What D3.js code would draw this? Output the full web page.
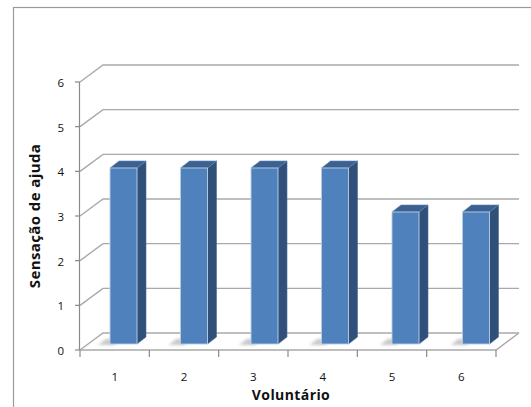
<!DOCTYPE html>
<html>
<head>
<meta charset="utf-8">
<script src="https://cdn.jsdelivr.net/npm/d3@7"></script>
<style>
  html, body { margin: 0; padding: 0; background: #fff; }
  svg { display: block; }
  text { font-family: "Open Sans", "Liberation Sans", Arial, sans-serif; }
</style>
</head>
<body>
<script>
// Data
const categories = ["1", "2", "3", "4", "5", "6"];
const values = [4, 4, 4, 4, 3, 3];
const yTicks = [0, 1, 2, 3, 4, 5, 6];
const xTitle = "Voluntário";
const yTitle = "Sensação de ajuda";

const W = 531, H = 407;
const svg = d3.select("body").append("svg").attr("width", W).attr("height", H);

// Outer chart frame
svg.append("rect")
  .attr("x", 13.5).attr("y", 7.5).attr("width", 600).attr("height", 500)
  .attr("fill", "#fff").attr("stroke", "#9a9a9a").attr("stroke-width", 1.2);

// Oblique projection offsets for the walls and the bars
const wallDx = 23, wallDy = -17;
const barDx = 9, barDy = -7;

// Front axis scales
const y = d3.scaleLinear().domain([0, 6]).range([350, 82]);
const x = d3.scaleBand().domain(categories).range([80, 496]);
// Scales for the plane in which the bars stand
const yb = d3.scaleLinear().domain([0, 6]).range([344, 80]);
const xb = d3.scaleBand().domain(categories).range([84, 507]);
const barOffset = 26, barWidth = 27;

const gridColor = "#a9a9a9";

// Gridlines: diagonal from the front axis plus line along the back wall
const grid = svg.append("g");
yTicks.forEach(t => {
  const yy = y(t);
  grid.append("path")
    .attr("d", `M${x.range()[0]},${yy} L${x.range()[0] + wallDx},${yy + wallDy} L${x.range()[1] + wallDx},${yy + wallDy}`)
    .attr("fill", "none").attr("stroke", gridColor).attr("stroke-width", 1.4);
});

// Floor: front and right edges
svg.append("path")
  .attr("d", `M${x.range()[0]},${y(0)} L${x.range()[1]},${y(0)} L${x.range()[1] + wallDx},${y(0) + wallDy}`)
  .attr("fill", "none").attr("stroke", gridColor).attr("stroke-width", 1.4);

// Y axis line and ticks
const yAxis = svg.append("g");
yAxis.append("line")
  .attr("x1", 79.5).attr("x2", 79.5).attr("y1", y(6)).attr("y2", y(0))
  .attr("stroke", "#8a8a8a").attr("stroke-width", 1.2);
yTicks.forEach(t => {
  yAxis.append("line")
    .attr("x1", 75).attr("x2", 80).attr("y1", y(t)).attr("y2", y(t))
    .attr("stroke", "#8a8a8a").attr("stroke-width", 1.2);
  yAxis.append("text")
    .attr("x", 64).attr("y", y(t) + 2)
    .attr("text-anchor", "end").attr("dominant-baseline", "middle")
    .attr("font-size", 11.5).attr("fill", "#111")
    .text(t);
});

// X axis ticks and labels
const xAxis = svg.append("g");
const bounds = categories.map(c => x(c)).concat([x.range()[1]]);
bounds.forEach(b => {
  xAxis.append("line")
    .attr("x1", b).attr("x2", b).attr("y1", y(0)).attr("y2", y(0) + 7)
    .attr("stroke", "#8a8a8a").attr("stroke-width", 1.2);
});
categories.forEach(c => {
  xAxis.append("text")
    .attr("x", x(c) + x.bandwidth() / 2).attr("y", 381)
    .attr("text-anchor", "middle")
    .attr("font-size", 11.5).attr("fill", "#111")
    .text(c);
});

// Soft shadows at the base of the bars
const defs = svg.append("defs");
defs.append("filter").attr("id", "soft")
  .attr("x", "-50%").attr("y", "-50%").attr("width", "200%").attr("height", "200%")
  .append("feGaussianBlur").attr("stdDeviation", 1.6);

const bars = svg.append("g");
categories.forEach((c, i) => {
  const x0 = xb(c) + barOffset;
  const y0 = yb(0);
  bars.append("polygon")
    .attr("points", [[x0 - 12, y0 + 1], [x0 + 4, y0 + 1], [x0 + 10, y0 - 5], [x0 - 4, y0 - 5]].join(" "))
    .attr("fill", "#c8c8c8").attr("filter", "url(#soft)");
});
categories.forEach((c, i) => {
  const x0 = xb(c) + barOffset, x1 = x0 + barWidth;
  const yt = yb(values[i]), y0 = yb(0);
  // side face
  bars.append("polygon")
    .attr("points", [[x1, yt], [x1 + barDx, yt + barDy], [x1 + barDx, y0 + barDy], [x1, y0]].join(" "))
    .attr("fill", "#30507a").attr("stroke", "#4a6d99").attr("stroke-width", 0.6);
  // top face
  bars.append("polygon")
    .attr("points", [[x0, yt], [x1, yt], [x1 + barDx, yt + barDy], [x0 + barDx, yt + barDy]].join(" "))
    .attr("fill", "#3a6192").attr("stroke", "#5f84b3").attr("stroke-width", 0.6);
  // front face
  bars.append("rect")
    .attr("x", x0).attr("y", yt).attr("width", barWidth).attr("height", y0 - yt)
    .attr("fill", "#4f81bd").attr("stroke", "#b9cce4").attr("stroke-width", 0.9);
});

// Axis titles
svg.append("text")
  .attr("x", x(categories[3]) + 3).attr("y", 400)
  .attr("text-anchor", "middle").attr("font-size", 14).attr("font-weight", "bold")
  .attr("letter-spacing", 0.4).attr("fill", "#111")
  .text(xTitle);

svg.append("text")
  .attr("transform", "translate(40,216) rotate(-90)")
  .attr("text-anchor", "middle").attr("font-size", 15).attr("font-weight", "bold")
  .attr("letter-spacing", 0.4).attr("fill", "#111")
  .text(yTitle);
</script>
</body>
</html>
